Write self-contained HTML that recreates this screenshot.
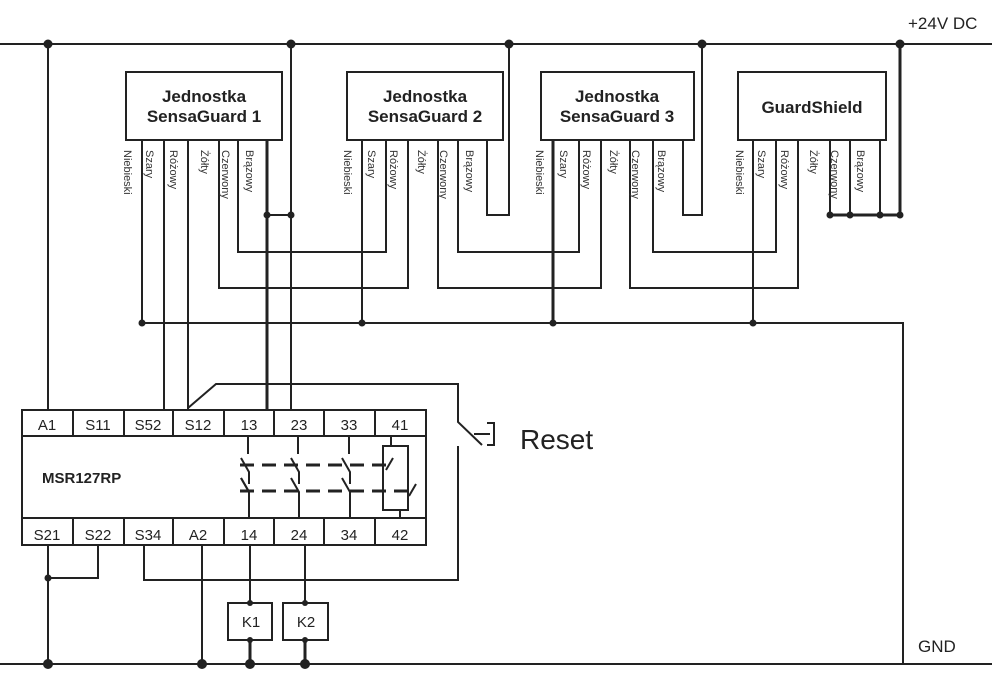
<!DOCTYPE html>
<html><head><style>body{margin:0;background:#fff}svg{display:block}</style></head><body>
<svg width="992" height="683" viewBox="0 0 992 683" xmlns="http://www.w3.org/2000/svg" font-family="Liberation Sans, sans-serif">
<g stroke="#222" fill="none" stroke-width="2">
<line x1="0" y1="44" x2="992" y2="44"/>
<line x1="0" y1="664" x2="992" y2="664"/>
<!-- boxes -->
<rect x="126" y="72" width="156" height="68"/>
<rect x="347" y="72" width="156" height="68"/>
<rect x="541" y="72" width="153" height="68"/>
<rect x="738" y="72" width="148" height="68"/>
<!-- left A1 -->
<line x1="48" y1="44" x2="48" y2="410"/>
<!-- unit1 -->
<line x1="142" y1="140" x2="142" y2="323"/>
<line x1="164" y1="140" x2="164" y2="410"/>
<line x1="188" y1="140" x2="188" y2="410"/>
<polyline points="219,140 219,288 408,288 408,140"/>
<polyline points="238,140 238,252 386,252 386,140"/>
<line x1="267" y1="140" x2="267" y2="410" stroke-width="3"/>
<line x1="291" y1="44" x2="291" y2="410"/>
<line x1="267" y1="215" x2="291" y2="215"/>
<!-- unit2 -->
<line x1="362" y1="140" x2="362" y2="323"/>
<polyline points="438,140 438,288 601,288 601,140"/>
<polyline points="458,140 458,252 579,252 579,140"/>
<polyline points="487,140 487,215 509,215 509,44"/>
<!-- unit3 -->
<line x1="553" y1="140" x2="553" y2="323" stroke-width="3"/>
<polyline points="630,140 630,288 798,288 798,140"/>
<polyline points="653,140 653,252 776,252 776,140"/>
<polyline points="683,140 683,215 702,215 702,44"/>
<!-- unit4 -->
<line x1="753" y1="140" x2="753" y2="323"/>
<line x1="830" y1="140" x2="830" y2="215"/>
<line x1="850" y1="140" x2="850" y2="215"/>
<line x1="880" y1="140" x2="880" y2="215"/>
<line x1="900" y1="44" x2="900" y2="215" stroke-width="3"/>
<line x1="830" y1="215" x2="900" y2="215" stroke-width="3"/>
<!-- GND bus -->
<polyline points="142,323 903,323 903,664"/>
<!-- relay -->
<rect x="22" y="410" width="404" height="135"/>
<line x1="22" y1="436" x2="426" y2="436"/>
<line x1="22" y1="518" x2="426" y2="518"/>
<g>
<line x1="73" y1="410" x2="73" y2="436"/><line x1="124" y1="410" x2="124" y2="436"/><line x1="173" y1="410" x2="173" y2="436"/><line x1="224" y1="410" x2="224" y2="436"/><line x1="274" y1="410" x2="274" y2="436"/><line x1="324" y1="410" x2="324" y2="436"/><line x1="375" y1="410" x2="375" y2="436"/>
<line x1="73" y1="518" x2="73" y2="545"/><line x1="124" y1="518" x2="124" y2="545"/><line x1="173" y1="518" x2="173" y2="545"/><line x1="224" y1="518" x2="224" y2="545"/><line x1="274" y1="518" x2="274" y2="545"/><line x1="324" y1="518" x2="324" y2="545"/><line x1="375" y1="518" x2="375" y2="545"/>
</g>
<!-- contacts -->
<g>
<path d="M248 436V454M241 458L249 472V484"/><path d="M248 490 L241 478M249 490L249 518"/>
<path d="M298 436V454M291 458L299 472V484"/><path d="M291 478L299 492V518"/>
<path d="M349 436V454M342 458L350 472V484"/><path d="M342 478L350 492V518"/>
<path d="M241 478L249 492"/>
<rect x="383" y="446" width="25" height="64"/>
<line x1="391" y1="436" x2="391" y2="446"/><line x1="400" y1="510" x2="400" y2="518"/>
<line x1="393" y1="458" x2="386" y2="470"/><line x1="416" y1="484" x2="409" y2="496"/>
</g>
<line x1="240" y1="465" x2="392" y2="465" stroke-width="3" stroke-dasharray="14,8"/>
<line x1="240" y1="491" x2="416" y2="491" stroke-width="3" stroke-dasharray="14,8"/>
<!-- S12 to reset -->
<polyline points="188,408 216,384 458,384 458,422 482,445"/>
<polyline points="458,446 458,580 144,580 144,545"/>
<line x1="474" y1="434" x2="490" y2="434"/>
<polyline points="487,423 494,423 494,445 487,445"/>
<!-- bottom -->
<line x1="48" y1="545" x2="48" y2="664"/>
<polyline points="98,545 98,578 48,578"/>
<line x1="202" y1="545" x2="202" y2="664"/>
<line x1="250" y1="545" x2="250" y2="603"/>
<line x1="250" y1="640" x2="250" y2="664" stroke-width="3"/>
<line x1="305" y1="545" x2="305" y2="603"/>
<line x1="305" y1="640" x2="305" y2="664" stroke-width="3"/>
<rect x="228" y="603" width="44" height="37"/>
<rect x="283" y="603" width="45" height="37"/>
</g>
<g fill="#222">
<circle cx="48" cy="44" r="4.5"/><circle cx="291" cy="44" r="4.5"/><circle cx="509" cy="44" r="4.5"/><circle cx="702" cy="44" r="4.5"/><circle cx="900" cy="44" r="4.5"/>
<circle cx="267" cy="215" r="3.5"/><circle cx="291" cy="215" r="3.5"/>
<circle cx="830" cy="215" r="3.5"/><circle cx="850" cy="215" r="3.5"/><circle cx="880" cy="215" r="3.5"/><circle cx="900" cy="215" r="3.5"/>
<circle cx="142" cy="323" r="3.5"/><circle cx="362" cy="323" r="3.5"/><circle cx="553" cy="323" r="3.5"/><circle cx="753" cy="323" r="3.5"/>
<circle cx="48" cy="578" r="3.5"/>
<circle cx="250" cy="603" r="3"/><circle cx="305" cy="603" r="3"/><circle cx="250" cy="640" r="3"/><circle cx="305" cy="640" r="3"/>
<circle cx="48" cy="664" r="5"/><circle cx="202" cy="664" r="5"/><circle cx="250" cy="664" r="5"/><circle cx="305" cy="664" r="5"/>
</g>
<g fill="#222" font-size="17" text-anchor="middle" font-weight="bold">
<text x="204" y="102">Jednostka</text><text x="204" y="122">SensaGuard 1</text>
<text x="425" y="102">Jednostka</text><text x="425" y="122">SensaGuard 2</text>
<text x="617" y="102">Jednostka</text><text x="617" y="122">SensaGuard 3</text>
<text x="812" y="113">GuardShield</text>
</g>
<g fill="#333" font-size="11">
<g transform="translate(124,150) rotate(90)"><text>Niebieski</text></g>
<g transform="translate(146,150) rotate(90)"><text>Szary</text></g>
<g transform="translate(170,150) rotate(90)"><text>Różowy</text></g>
<g transform="translate(201,150) rotate(90)"><text>Żółty</text></g>
<g transform="translate(222,150) rotate(90)"><text>Czerwony</text></g>
<g transform="translate(246,150) rotate(90)"><text>Brązowy</text></g>
<g transform="translate(344,150) rotate(90)"><text>Niebieski</text></g>
<g transform="translate(368,150) rotate(90)"><text>Szary</text></g>
<g transform="translate(390,150) rotate(90)"><text>Różowy</text></g>
<g transform="translate(418,150) rotate(90)"><text>Żółty</text></g>
<g transform="translate(440,150) rotate(90)"><text>Czerwony</text></g>
<g transform="translate(466,150) rotate(90)"><text>Brązowy</text></g>
<g transform="translate(536,150) rotate(90)"><text>Niebieski</text></g>
<g transform="translate(560,150) rotate(90)"><text>Szary</text></g>
<g transform="translate(583,150) rotate(90)"><text>Różowy</text></g>
<g transform="translate(610,150) rotate(90)"><text>Żółty</text></g>
<g transform="translate(632,150) rotate(90)"><text>Czerwony</text></g>
<g transform="translate(658,150) rotate(90)"><text>Brązowy</text></g>
<g transform="translate(736,150) rotate(90)"><text>Niebieski</text></g>
<g transform="translate(758,150) rotate(90)"><text>Szary</text></g>
<g transform="translate(781,150) rotate(90)"><text>Różowy</text></g>
<g transform="translate(810,150) rotate(90)"><text>Żółty</text></g>
<g transform="translate(831,150) rotate(90)"><text>Czerwony</text></g>
<g transform="translate(857,150) rotate(90)"><text>Brązowy</text></g>
</g>
<g fill="#222" font-size="15" text-anchor="middle">
<text x="47" y="430">A1</text><text x="98" y="430">S11</text><text x="148" y="430">S52</text><text x="198" y="430">S12</text><text x="249" y="430">13</text><text x="299" y="430">23</text><text x="349" y="430">33</text><text x="400" y="430">41</text>
<text x="47" y="540">S21</text><text x="98" y="540">S22</text><text x="148" y="540">S34</text><text x="198" y="540">A2</text><text x="249" y="540">14</text><text x="299" y="540">24</text><text x="349" y="540">34</text><text x="400" y="540">42</text>
<text x="251" y="627">K1</text><text x="306" y="627">K2</text>
</g>
<text x="42" y="483" font-size="15" font-weight="bold" fill="#222">MSR127RP</text>
<text x="520" y="449" font-size="28" fill="#222">Reset</text>
<text x="908" y="29" font-size="17" fill="#222">+24V DC</text>
<text x="918" y="652" font-size="17" fill="#222">GND</text>
</svg>
</body></html>
